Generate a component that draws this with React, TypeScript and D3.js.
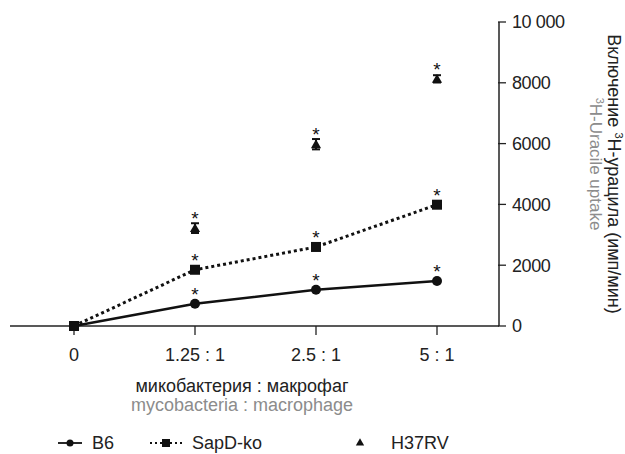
import React, { useEffect, useRef } from "react";
import * as d3 from "d3";

const ratios = ["0", "1.25 : 1", "2.5 : 1", "5 : 1"];
const b6 = [0, 730, 1190, 1480];
const sapd = [0, 1850, 2600, 3990];
const h37rv = [null, 3220, 5980, 8130];
const h37rvErr = [null, 160, 170, 120];
const yTicks = [0, 2000, 4000, 6000, 8000, 10000];
const starOn = [false, true, true, true];

const FONT = "'Liberation Sans', Arial, Helvetica, sans-serif";

export default function App() {
  const ref = useRef<SVGSVGElement>(null);

  useEffect(() => {
    const svg = d3.select(ref.current);
    svg.selectAll("*").remove();

    const x = d3.scalePoint().domain(ratios).range([74, 437]);
    const y = d3.scaleLinear().domain([0, 10000]).range([326, 22]);

    const g = svg.append("g").style("font-family", FONT);

    // x axis
    g.append("line")
      .attr("x1", 10).attr("x2", 499)
      .attr("y1", y(0)).attr("y2", y(0))
      .attr("stroke", "#222").attr("stroke-width", 1.5);
    ratios.forEach(r => {
      g.append("line")
        .attr("x1", x(r)).attr("x2", x(r))
        .attr("y1", y(0)).attr("y2", y(0) + 9)
        .attr("stroke", "#222").attr("stroke-width", 1.3);
      g.append("text")
        .attr("x", x(r)).attr("y", 361)
        .attr("text-anchor", "middle")
        .attr("font-size", 18).attr("fill", "#222")
        .text(r);
    });

    // y axis on the right
    g.append("line")
      .attr("x1", 499).attr("x2", 499)
      .attr("y1", y(0)).attr("y2", y(10000))
      .attr("stroke", "#222").attr("stroke-width", 1.5);
    yTicks.forEach(t => {
      g.append("line")
        .attr("x1", 498).attr("x2", 506)
        .attr("y1", y(t)).attr("y2", y(t))
        .attr("stroke", "#222").attr("stroke-width", 1.3);
      g.append("text")
        .attr("x", 512).attr("y", y(t))
        .attr("dy", "0.36em")
        .attr("font-size", 18).attr("fill", "#222")
        .attr("letter-spacing", -0.4)
        .text(t >= 10000 ? "10 000" : String(t));
    });

    // axis titles
    const yt = g.append("text")
      .attr("transform", `translate(608,${(y(0) + y(10000)) / 2}) rotate(90)`)
      .attr("text-anchor", "middle")
      .attr("font-size", 18).attr("fill", "#222");
    yt.append("tspan").text("Включение ");
    yt.append("tspan").attr("font-size", 11).attr("dy", -7).text("3");
    yt.append("tspan").attr("dy", 7).text("H-урацила (имп/мин)");

    const yt2 = g.append("text")
      .attr("transform", `translate(590,${(y(0) + y(10000)) / 2 - 10}) rotate(90)`)
      .attr("text-anchor", "middle")
      .attr("font-size", 17).attr("fill", "#8c8c8c");
    yt2.append("tspan").attr("font-size", 11).attr("dy", -6).text("3");
    yt2.append("tspan").attr("dy", 6).text("H-Uracile uptake");

    g.append("text")
      .attr("x", 242).attr("y", 392)
      .attr("text-anchor", "middle")
      .attr("font-size", 18).attr("fill", "#222")
      .text("микобактерия : макрофаг");
    g.append("text")
      .attr("x", 242).attr("y", 411)
      .attr("text-anchor", "middle")
      .attr("font-size", 18).attr("fill", "#8c8c8c")
      .text("mycobacteria : macrophage");

    const line = d3.line<number>()
      .x((_, i) => x(ratios[i]) as number)
      .y(d => y(d));

    // SapD-ko dotted
    g.append("path")
      .datum(sapd)
      .attr("d", line)
      .attr("fill", "none").attr("stroke", "#111")
      .attr("stroke-width", 3).attr("stroke-dasharray", "3,3");
    // B6 solid
    g.append("path")
      .datum(b6)
      .attr("d", line)
      .attr("fill", "none").attr("stroke", "#111")
      .attr("stroke-width", 2.6);

    sapd.forEach((v, i) => {
      g.append("rect")
        .attr("x", (x(ratios[i]) as number) - 5).attr("y", y(v) - 5)
        .attr("width", 10).attr("height", 10).attr("fill", "#111");
    });
    b6.forEach((v, i) => {
      g.append("circle")
        .attr("cx", x(ratios[i]) as number).attr("cy", y(v))
        .attr("r", 5).attr("fill", "#111");
    });

    const tri = d3.symbol().type(d3.symbolTriangle).size(45);
    h37rv.forEach((v, i) => {
      if (v == null) return;
      const cx = x(ratios[i]) as number;
      const e = h37rvErr[i] as number;
      g.append("line")
        .attr("x1", cx).attr("x2", cx)
        .attr("y1", y(v + e)).attr("y2", y(v - e))
        .attr("stroke", "#111").attr("stroke-width", 2);
      [v + e, v - e].forEach(c => {
        g.append("line")
          .attr("x1", cx - 4).attr("x2", cx + 4)
          .attr("y1", y(c)).attr("y2", y(c))
          .attr("stroke", "#111").attr("stroke-width", 2);
      });
      g.append("path")
        .attr("d", tri)
        .attr("transform", `translate(${cx},${y(v) + 1})`)
        .attr("fill", "#111");
    });

    // significance stars
    [b6, sapd, h37rv].forEach(series => {
      series.forEach((v, i) => {
        if (v == null || !starOn[i]) return;
        g.append("text")
          .attr("x", x(ratios[i]) as number).attr("y", y(v) - 3)
          .attr("text-anchor", "middle")
          .attr("font-size", 19).attr("fill", "#111")
          .text("*");
      });
    });

    // legend
    const ly = 443;
    g.append("line").attr("x1", 58).attr("x2", 82).attr("y1", ly).attr("y2", ly)
      .attr("stroke", "#111").attr("stroke-width", 1.8);
    g.append("circle").attr("cx", 70).attr("cy", ly).attr("r", 3.5).attr("fill", "#111");
    g.append("text").attr("x", 92).attr("y", ly).attr("dy", "0.36em")
      .attr("font-size", 18).attr("fill", "#222").text("B6");

    g.append("line").attr("x1", 150).attr("x2", 182).attr("y1", ly).attr("y2", ly)
      .attr("stroke", "#111").attr("stroke-width", 1.8).attr("stroke-dasharray", "2,3");
    g.append("rect").attr("x", 162).attr("y", ly - 4).attr("width", 8).attr("height", 8)
      .attr("fill", "#111");
    g.append("text").attr("x", 192).attr("y", ly).attr("dy", "0.36em")
      .attr("font-size", 18).attr("fill", "#222").text("SapD-ko");

    g.append("path").attr("d", d3.symbol().type(d3.symbolTriangle).size(30))
      .attr("transform", `translate(360,${ly})`).attr("fill", "#111");
    g.append("text").attr("x", 391).attr("y", ly).attr("dy", "0.36em")
      .attr("font-size", 18).attr("fill", "#222").text("H37RV");
  }, []);

  return (
    <svg ref={ref} width={625} height={454}
      style={{ position: "absolute", left: 0, top: 0, background: "#fff" }} />
  );
}
